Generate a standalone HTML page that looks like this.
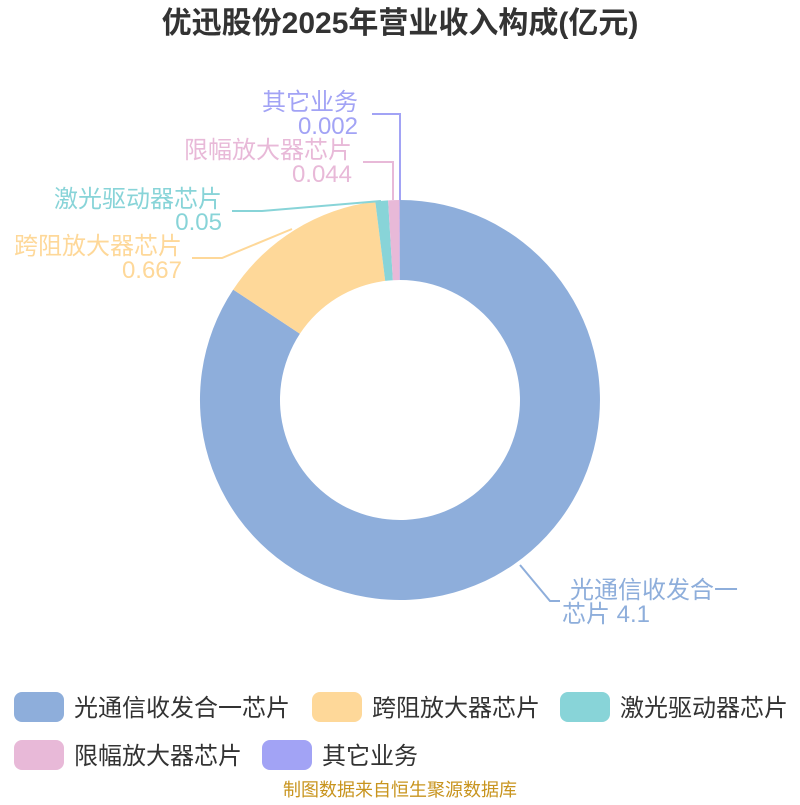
<!DOCTYPE html>
<html><head><meta charset="utf-8"><style>
body{margin:0;background:#fff;}
svg text{font-family:"Liberation Sans","Noto Sans CJK SC",sans-serif;}
</style></head><body>
<svg width="800" height="800" xmlns="http://www.w3.org/2000/svg">
<text x="400" y="33" text-anchor="middle" font-size="30" font-weight="bold" fill="#333">优迅股份2025年营业收入构成(亿元)</text>
<path d="M400,200 A200,200 0 1 1 233.2,289.6 L299.9,333.8 A120,120 0 1 0 400,280 Z" fill="#8eaedb"/>
<path d="M233.2,289.6 A200,200 0 0 1 375.3,201.5 L385.2,280.9 A120,120 0 0 0 299.9,333.8 Z" fill="#fed899"/>
<path d="M375.3,201.5 A200,200 0 0 1 388.1,200.4 L392.9,280.2 A120,120 0 0 0 385.2,280.9 Z" fill="#88d4d8"/>
<path d="M388.1,200.4 A200,200 0 0 1 399.5,200 L399.7,280 A120,120 0 0 0 392.9,280.2 Z" fill="#e8b9d8"/>
<path d="M399.5,200 L400,200 L400,280 L399.7,280 Z" fill="#a2a3f5"/>
<g fill="none" stroke-width="2">
<polyline points="372,114 400,114 400,200" stroke="#a2a3f5"/>
<polyline points="363,162 393,162 393,200" stroke="#e8b9d8"/>
<polyline points="232,211 262,211 381,201" stroke="#88d4d8"/>
<polyline points="192,258 222,258 292,229" stroke="#fed899"/>
<polyline points="520,565 550,601 560,601" stroke="#8eaedb"/>
</g>
<g font-size="24" text-anchor="end">
<text x="358" y="110" fill="#a2a3f5">其它业务</text>
<text x="358" y="134" fill="#a2a3f5">0.002</text>
<text x="352" y="158" fill="#e8b9d8">限幅放大器芯片</text>
<text x="352" y="182" fill="#e8b9d8">0.044</text>
<text x="222" y="207" fill="#88d4d8">激光驱动器芯片</text>
<text x="222" y="230" fill="#88d4d8">0.05</text>
<text x="182" y="254" fill="#fed899">跨阻放大器芯片</text>
<text x="182" y="278" fill="#fed899">0.667</text>
</g>
<text x="570" y="598" font-size="24" fill="#8eaedb">光通信收发合一</text>
<text x="562" y="622" font-size="24" fill="#8eaedb">芯片 4.1</text>
<g font-size="24" fill="#333">
<rect x="14" y="692" width="50" height="30" rx="8" fill="#8eaedb"/><text x="74" y="716">光通信收发合一芯片</text>
<rect x="312" y="692" width="50" height="30" rx="8" fill="#fed899"/><text x="372" y="716">跨阻放大器芯片</text>
<rect x="560" y="692" width="50" height="30" rx="8" fill="#88d4d8"/><text x="620" y="716">激光驱动器芯片</text>
<rect x="14" y="740" width="50" height="30" rx="8" fill="#e8b9d8"/><text x="74" y="764">限幅放大器芯片</text>
<rect x="262" y="740" width="50" height="30" rx="8" fill="#a2a3f5"/><text x="322" y="764">其它业务</text>
</g>
<text x="400" y="796" text-anchor="middle" font-size="18" fill="#c8941e">制图数据来自恒生聚源数据库</text>
</svg>
</body></html>
